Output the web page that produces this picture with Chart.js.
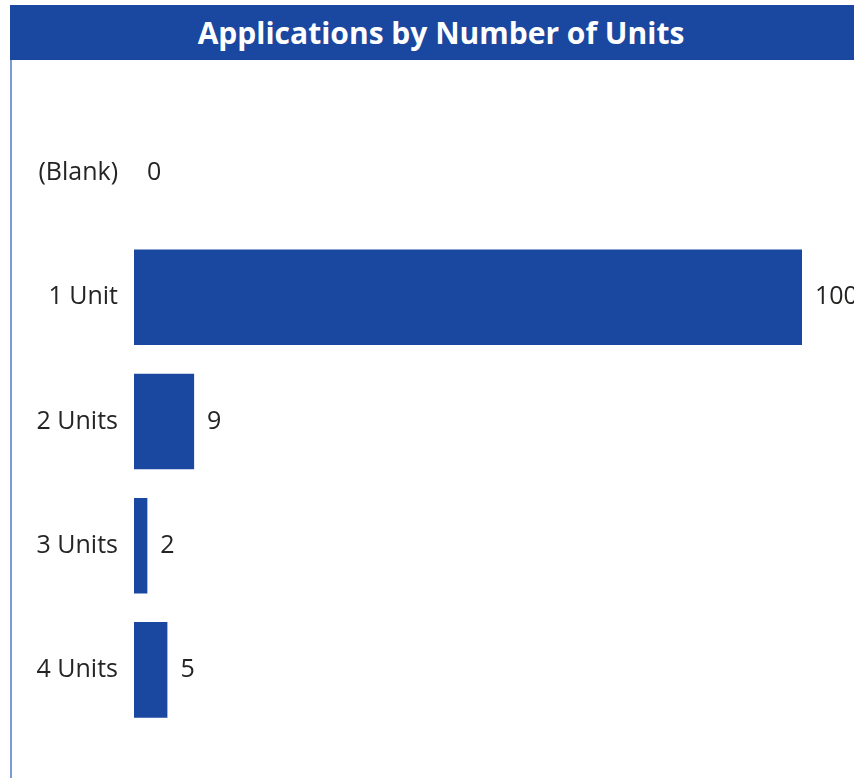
<!DOCTYPE html>
<html>
<head>
<meta charset="utf-8">
<script src="https://cdn.jsdelivr.net/npm/chart.js@4"></script>
<style>
  body { margin: 0; background: #fff; width: 854px; height: 778px; overflow: hidden; }
  #panel { position: absolute; left: 10px; top: 5px; width: 860px; height: 773px; }
  #title { height: 55px; background: #1A47A0; color: #fff; font: bold 30px "Open Sans", sans-serif; line-height: 55px; text-align: center; padding-left: 18px; box-sizing: border-box; width: 844px; }
  #body { position: absolute; left: 0; top: 55px; width: 844px; height: 718px; border-left: 2px solid #7C9BD6; box-sizing: border-box; }
  #wrap { position: absolute; left: 0; top: 0; width: 842px; height: 718px; }
</style>
</head>
<body>
<div id="panel">
  <div id="title">Applications by Number of Units</div>
  <div id="body"><div id="wrap"><canvas id="unitsChart"></canvas></div></div>
</div>
<script>
const categories = ['(Blank)', '1 Unit', '2 Units', '3 Units', '4 Units'];
const counts = [0, 100, 9, 2, 5];

const barColor = '#1A47A0';
const textColor = '#252423';

// value labels at the end of each bar
const valueLabels = {
  id: 'valueLabels',
  afterDatasetsDraw(chart) {
    const ctx = chart.ctx;
    const meta = chart.getDatasetMeta(0);
    ctx.save();
    ctx.font = '25px "Open Sans", sans-serif';
    ctx.fillStyle = textColor;
    ctx.textAlign = 'left';
    ctx.textBaseline = 'middle';
    meta.data.forEach((bar, i) => {
      ctx.fillText(String(counts[i]), bar.x + 13, bar.y);
    });
    ctx.restore();
  }
};

new Chart(document.getElementById('unitsChart'), {
  type: 'bar',
  data: {
    labels: categories,
    datasets: [{
      data: counts,
      backgroundColor: barColor,
      barPercentage: 0.77,
      categoryPercentage: 1
    }]
  },
  options: {
    indexAxis: 'y',
    responsive: true,
    maintainAspectRatio: false,
    animation: false,
    layout: { padding: { top: 51, bottom: 46, right: 52, left: 0 } },
    plugins: {
      legend: { display: false },
      tooltip: { enabled: false }
    },
    scales: {
      x: { display: false, min: 0, max: 100 },
      y: {
        grid: { display: false, drawTicks: false },
        border: { display: false },
        ticks: {
          padding: 16,
          color: textColor,
          font: { family: 'Open Sans', size: 25 }
        },
        afterFit(scale) { scale.width = 122; }
      }
    }
  },
  plugins: [valueLabels]
});
</script>
</body>
</html>
